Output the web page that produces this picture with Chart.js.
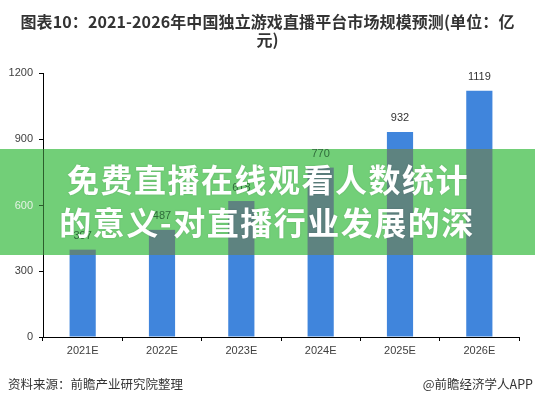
<!DOCTYPE html>
<html>
<head>
<meta charset="utf-8">
<script src="https://cdn.jsdelivr.net/npm/chart.js@4.4.1/dist/chart.umd.min.js"></script>
<style>
  html, body { margin: 0; padding: 0; background: #ffffff; }
  #wrap { position: relative; width: 535px; height: 404px; overflow: hidden; }
  #chart { position: absolute; left: 0; top: 0; }
  .title {
    position: absolute; left: 0; top: 12px; width: 535px; text-align: center;
    font-family: "Noto Sans CJK SC", sans-serif; font-weight: bold; font-size: 16px;
    line-height: 18px; color: #333333; letter-spacing: 0.1px;
  }
  .foot {
    position: absolute; top: 376px; font-family: "Noto Sans CJK SC", sans-serif;
    font-size: 12.5px; line-height: 16px; color: #333333;
  }
</style>
</head>
<body>
<div id="wrap">
  <canvas id="chart" width="535" height="404"></canvas>
  <div class="title">图表10：2021-2026年中国独立游戏直播平台市场规模预测(单位：亿<br>元)</div>
  <div class="foot" style="left:8px;">资料来源：前瞻产业研究院整理</div>
  <div class="foot" style="right:2px;">@前瞻经济学人APP</div>
</div>
<script>
// Market size forecast, 100 million yuan
const years = ['2021E', '2022E', '2023E', '2024E', '2025E', '2026E'];
const marketSize = [397, 487, 618, 770, 932, 1119];
const yTicks = [0, 300, 600, 900, 1200];

// Banner text laid across the middle of the plot
const bannerLines = ['免费直播在线观看人数统计', '的意义-对直播行业发展的深'];

const BAR_BLUE = '#4085dc';
const TICK_FONT = { family: '"Liberation Sans", Arial, sans-serif', size: 11 };

// Value labels above each bar
const valueLabels = {
  id: 'valueLabels',
  afterDatasetsDraw(chart) {
    const ctx = chart.ctx;
    const meta = chart.getDatasetMeta(0);
    ctx.save();
    ctx.font = '11px "Liberation Sans", Arial, sans-serif';
    ctx.fillStyle = '#333333';
    ctx.textAlign = 'center';
    ctx.textBaseline = 'bottom';
    meta.data.forEach((bar, i) => {
      ctx.fillText(String(marketSize[i]), bar.x, bar.y - 8);
    });
    ctx.restore();
  }
};

// Green banner band with the bars and labels showing through in muted tones
const banner = {
  id: 'banner',
  afterDraw(chart) {
    const ctx = chart.ctx;
    const top = 149, h = 106;
    const meta = chart.getDatasetMeta(0);
    const yScale = chart.scales.y;
    ctx.save();
    ctx.fillStyle = '#72cf78';
    ctx.fillRect(0, top, chart.width, h);
    ctx.beginPath();
    ctx.rect(0, top, chart.width, h);
    ctx.clip();
    // bars under the band
    ctx.fillStyle = '#5e8380';
    meta.data.forEach(bar => {
      const p = bar.getProps(['x', 'y', 'base', 'width'], true);
      ctx.fillRect(p.x - p.width / 2, p.y, p.width, p.base - p.y);
    });
    // value labels under the band
    ctx.font = '11px "Liberation Sans", Arial, sans-serif';
    ctx.fillStyle = '#2f6b3a';
    ctx.textAlign = 'center';
    ctx.textBaseline = 'bottom';
    meta.data.forEach((bar, i) => {
      ctx.fillText(String(marketSize[i]), bar.x, bar.y - 8);
    });
    // y axis line and tick under the band
    const ax = chart.chartArea.left;
    ctx.strokeStyle = '#2c5e2c';
    ctx.lineWidth = 1;
    ctx.beginPath();
    ctx.moveTo(ax + 0.5, top);
    ctx.lineTo(ax + 0.5, top + h);
    const y600 = Math.round(yScale.getPixelForValue(600)) + 0.5;
    ctx.moveTo(ax - 4, y600);
    ctx.lineTo(ax, y600);
    ctx.stroke();
    ctx.fillStyle = '#e4f2e4';
    ctx.textAlign = 'right';
    ctx.textBaseline = 'middle';
    ctx.fillText('600', ax - 10, y600);
    // banner text
    ctx.fillStyle = '#ffffff';
    ctx.textAlign = 'center';
    ctx.textBaseline = 'middle';
    ctx.font = 'bold 32px "Noto Sans CJK SC", sans-serif';
    if ('letterSpacing' in ctx) ctx.letterSpacing = '1.5px';
    ctx.shadowColor = 'rgba(0,0,0,0.15)';
    ctx.shadowBlur = 2;
    ctx.fillText(bannerLines[0], 268, 180);
    ctx.fillText(bannerLines[1], 267, 223);
    ctx.restore();
  }
};

new Chart(document.getElementById('chart'), {
  type: 'bar',
  data: {
    labels: years,
    datasets: [{
      data: marketSize,
      backgroundColor: BAR_BLUE,
      borderWidth: 0,
      categoryPercentage: 1.0,
      barPercentage: 0.33
    }]
  },
  options: {
    responsive: false,
    animation: false,
    devicePixelRatio: 1,
    layout: { padding: { top: 73, right: 16, left: 0, bottom: 0 } },
    plugins: {
      legend: { display: false },
      title: { display: false },
      tooltip: { enabled: false }
    },
    scales: {
      x: {
        offset: true,
        grid: {
          offset: true,
          drawOnChartArea: false,
          drawTicks: true,
          tickLength: 4,
          color: '#000000'
        },
        border: { display: true, color: '#000000', width: 1 },
        ticks: { color: '#404040', font: TICK_FONT, padding: 3, maxRotation: 0 },
        afterFit(scale) { scale.height = 67; }
      },
      y: {
        min: 0,
        max: 1200,
        afterBuildTicks(scale) { scale.ticks = yTicks.map(v => ({ value: v })); },
        grid: {
          drawOnChartArea: false,
          drawTicks: true,
          tickLength: 4,
          color: '#000000'
        },
        border: { display: true, color: '#000000', width: 1 },
        ticks: {
          color: '#404040',
          font: TICK_FONT,
          padding: 6,
          callback: (v) => String(v)
        },
        afterFit(scale) { scale.width = 43; }
      }
    }
  },
  plugins: [valueLabels, banner]
});
</script>
</body>
</html>
